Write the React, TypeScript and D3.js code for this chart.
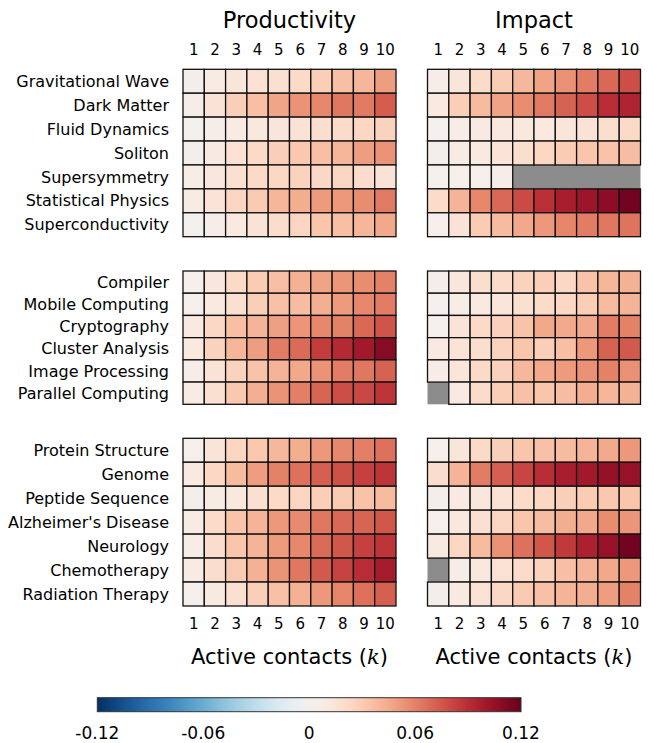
import React, { useEffect, useRef } from "react";
import * as d3 from "d3";

const kTicks = ["1", "2", "3", "4", "5", "6", "7", "8", "9", "10"];
const metrics = ["Productivity", "Impact"];
const cbarTicks = [-0.12, -0.06, 0, 0.06, 0.12];
const cbarTickLabels = ["-0.12", "-0.06", "0", "0.06", "0.12"];

const physicsFields = ["Gravitational Wave", "Dark Matter", "Fluid Dynamics", "Soliton", "Supersymmetry", "Statistical Physics", "Superconductivity"];
const csFields = ["Compiler", "Mobile Computing", "Cryptography", "Cluster Analysis", "Image Processing", "Parallel Computing"];
const bioFields = ["Protein Structure", "Genome", "Peptide Sequence", "Alzheimer's Disease", "Neurology", "Chemotherapy", "Radiation Therapy"];

const N = null;
const physicsProductivity = [
  [0.003, 0.008, 0.014, 0.017, 0.018, 0.022, 0.029, 0.036, 0.040, 0.050],
  [0.005, 0.016, 0.028, 0.036, 0.047, 0.054, 0.058, 0.064, 0.063, 0.073],
  [0.002, 0.005, 0.008, 0.012, 0.014, 0.016, 0.019, 0.021, 0.024, 0.026],
  [0.003, 0.009, 0.017, 0.022, 0.028, 0.032, 0.036, 0.040, 0.050, 0.054],
  [0.007, 0.013, 0.018, 0.022, 0.024, 0.026, 0.023, 0.025, 0.020, 0.016],
  [0.008, 0.015, 0.025, 0.031, 0.040, 0.044, 0.051, 0.052, 0.056, 0.063],
  [0.002, 0.005, 0.010, 0.016, 0.020, 0.025, 0.033, 0.036, 0.040, 0.046],
];
const physicsImpact = [
  [0.005, 0.014, 0.021, 0.030, 0.039, 0.048, 0.055, 0.062, 0.069, 0.078],
  [0.011, 0.029, 0.038, 0.048, 0.056, 0.063, 0.071, 0.078, 0.090, 0.094],
  [0.002, 0.005, 0.009, 0.012, 0.012, 0.011, 0.014, 0.016, 0.019, 0.022],
  [0.003, 0.008, 0.010, 0.015, 0.019, 0.024, 0.030, 0.033, 0.034, 0.037],
  [0.002, 0.004, 0.004, 0.005, N, N, N, N, N, N],
  [0.021, 0.041, 0.058, 0.069, 0.079, 0.089, 0.097, 0.102, 0.108, 0.116],
  [0.004, 0.016, 0.030, 0.038, 0.046, 0.052, 0.059, 0.062, 0.064, 0.065],
];
const csProductivity = [
  [0.004, 0.013, 0.022, 0.030, 0.036, 0.042, 0.048, 0.053, 0.056, 0.060],
  [0.004, 0.011, 0.018, 0.028, 0.035, 0.037, 0.043, 0.051, 0.058, 0.062],
  [0.010, 0.023, 0.036, 0.041, 0.049, 0.053, 0.058, 0.060, 0.069, 0.076],
  [0.011, 0.026, 0.040, 0.050, 0.062, 0.068, 0.084, 0.092, 0.100, 0.110],
  [0.005, 0.016, 0.026, 0.034, 0.041, 0.046, 0.054, 0.062, 0.064, 0.071],
  [0.008, 0.018, 0.032, 0.043, 0.054, 0.061, 0.070, 0.078, 0.080, 0.087],
];
const csImpact = [
  [0.003, 0.013, 0.019, 0.021, 0.026, 0.028, 0.023, 0.034, 0.040, 0.042],
  [0.002, 0.006, 0.010, 0.014, 0.018, 0.021, 0.024, 0.029, 0.038, 0.041],
  [0.002, 0.015, 0.022, 0.027, 0.034, 0.046, 0.045, 0.046, 0.062, 0.060],
  [0.009, 0.015, 0.019, 0.026, 0.033, 0.029, 0.036, 0.052, 0.071, 0.074],
  [0.005, 0.014, 0.022, 0.027, 0.039, 0.045, 0.051, 0.055, 0.060, 0.055],
  [N, 0.009, 0.021, 0.029, 0.035, 0.033, 0.037, 0.044, 0.040, 0.042],
];
const bioProductivity = [
  [0.004, 0.015, 0.025, 0.032, 0.039, 0.044, 0.052, 0.058, 0.061, 0.066],
  [0.010, 0.024, 0.038, 0.050, 0.060, 0.066, 0.072, 0.077, 0.083, 0.087],
  [0.003, 0.008, 0.012, 0.018, 0.022, 0.025, 0.029, 0.031, 0.034, 0.038],
  [0.008, 0.021, 0.034, 0.041, 0.052, 0.057, 0.064, 0.069, 0.070, 0.075],
  [0.006, 0.020, 0.033, 0.041, 0.051, 0.058, 0.068, 0.075, 0.083, 0.087],
  [0.008, 0.020, 0.031, 0.042, 0.054, 0.064, 0.074, 0.082, 0.090, 0.098],
  [0.004, 0.010, 0.018, 0.028, 0.035, 0.042, 0.052, 0.059, 0.066, 0.072],
];
const bioImpact = [
  [0.004, 0.014, 0.022, 0.028, 0.033, 0.035, 0.038, 0.041, 0.045, 0.052],
  [0.020, 0.041, 0.062, 0.072, 0.081, 0.090, 0.097, 0.100, 0.105, 0.104],
  [0.003, 0.009, 0.013, 0.017, 0.021, 0.024, 0.028, 0.030, 0.032, 0.033],
  [0.004, 0.012, 0.018, 0.025, 0.033, 0.037, 0.044, 0.046, 0.056, 0.053],
  [0.010, 0.024, 0.038, 0.055, 0.066, 0.075, 0.085, 0.096, 0.104, 0.116],
  [N, 0.005, 0.012, 0.017, 0.021, 0.026, 0.036, 0.041, 0.046, 0.052],
  [0.003, 0.010, 0.017, 0.023, 0.031, 0.035, 0.041, 0.044, 0.050, 0.060],
];

const W = 654;
const H = 743;
const FONT = "'DejaVu Sans', sans-serif";

export default function App() {
  const ref = useRef<SVGSVGElement>(null);

  useEffect(() => {
    const svg = d3.select(ref.current);
    svg.selectAll("*").remove();

    const color = (v: number) => d3.interpolateRdBu(1 - (v + 0.12) / 0.24);

    const panelX = [183, 427.5];
    const panelW = 213;
    const groups = [
      { fields: physicsFields, data: [physicsProductivity, physicsImpact], top: 69.3, h: 167.4 },
      { fields: csFields, data: [csProductivity, csImpact], top: 271, h: 133.3 },
      { fields: bioFields, data: [bioProductivity, bioImpact], top: 438.3, h: 167.7 },
    ];

    metrics.forEach((m, mi) => {
      const x = d3.scaleBand<string>().domain(kTicks).range([panelX[mi], panelX[mi] + panelW]);
      svg.append("text").attr("x", panelX[mi] + panelW / 2).attr("y", 28)
        .attr("text-anchor", "middle").attr("font-family", FONT).attr("font-size", 22.5)
        .text(m);
      kTicks.forEach((k) => {
        svg.append("text").attr("x", x(k)! + x.bandwidth() / 2).attr("y", 55)
          .attr("text-anchor", "middle").attr("font-family", FONT).attr("font-size", 15).text(k);
        svg.append("text").attr("x", x(k)! + x.bandwidth() / 2).attr("y", 629)
          .attr("text-anchor", "middle").attr("font-family", FONT).attr("font-size", 15).text(k);
      });
      const lab = svg.append("text").attr("x", panelX[mi] + panelW / 2).attr("y", 664)
        .attr("text-anchor", "middle").attr("font-family", FONT).attr("font-size", 21);
      lab.append("tspan").text("Active contacts (");
      lab.append("tspan").attr("font-style", "italic").attr("font-family", "'DejaVu Serif', serif").text("k");
      lab.append("tspan").text(")");

      groups.forEach((g) => {
        const y = d3.scaleBand<string>().domain(g.fields).range([g.top, g.top + g.h]);
        const grid = g.data[mi];
        svg.append("rect").attr("x", panelX[mi]).attr("y", g.top)
          .attr("width", panelW).attr("height", g.h).attr("fill", "#8c8c8c");
        g.fields.forEach((f, ri) => {
          kTicks.forEach((k, ci) => {
            const v = grid[ri][ci];
            if (v === null) return;
            svg.append("rect")
              .attr("x", x(k)!).attr("y", y(f)!)
              .attr("width", x.bandwidth()).attr("height", y.bandwidth())
              .attr("fill", color(v as number))
              .attr("stroke", "#111").attr("stroke-width", 1.3);
          });
        });
        if (mi === 0) {
          g.fields.forEach((f) => {
            svg.append("text").attr("x", 169).attr("y", y(f)! + y.bandwidth() / 2)
              .attr("dy", "0.35em").attr("text-anchor", "end")
              .attr("font-family", FONT).attr("font-size", 16).text(f);
          });
        }
      });
    });

    // colorbar
    const cx0 = 97.3, cx1 = 521, cy = 697.7, ch = 14;
    const cs = d3.scaleLinear().domain([-0.12, 0.12]).range([cx0, cx1]);
    const defs = svg.append("defs");
    const grad = defs.append("linearGradient").attr("id", "cbar").attr("x1", "0%").attr("x2", "100%");
    d3.range(0, 41).forEach((i) => {
      const t = i / 40;
      grad.append("stop").attr("offset", `${t * 100}%`).attr("stop-color", color(-0.12 + t * 0.24));
    });
    svg.append("rect").attr("x", cx0).attr("y", cy).attr("width", cx1 - cx0).attr("height", ch)
      .attr("fill", "url(#cbar)").attr("stroke", "#333").attr("stroke-width", 1);
    cbarTicks.forEach((t, i) => {
      svg.append("text").attr("x", cs(t)).attr("y", 739)
        .attr("text-anchor", "middle").attr("font-family", FONT).attr("font-size", 17)
        .text(cbarTickLabels[i]);
    });
  }, []);

  return (
    <svg ref={ref} width={W} height={H}
      style={{ position: "absolute", left: 0, top: 0, background: "#fff", display: "block" }} />
  );
}
